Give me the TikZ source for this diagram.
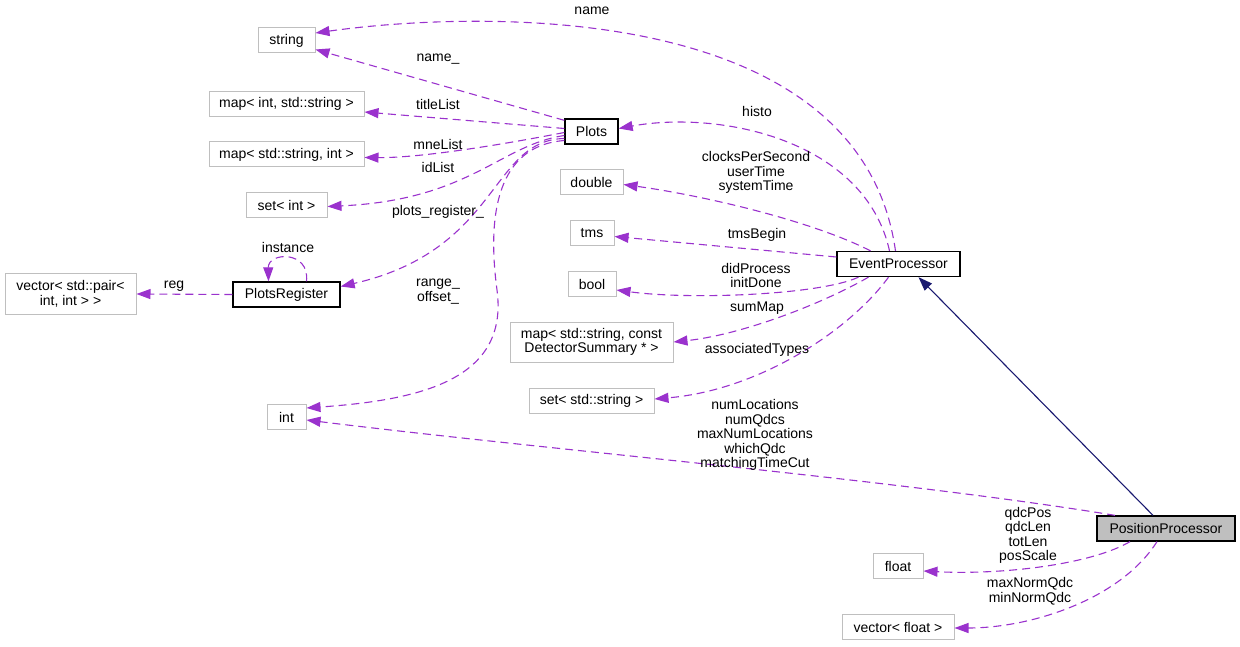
\documentclass[tikz,border=0pt]{standalone}
\usepackage{fontspec}
\setmainfont{Liberation Sans}
\usetikzlibrary{arrows.meta}
\definecolor{memberclr}{HTML}{9A32CD}
\definecolor{typegray}{HTML}{BFBFBF}
\definecolor{baseclr}{HTML}{191970}
\begin{document}
\begin{tikzpicture}[x=1pt,y=-1pt,font=\fontsize{14}{14.5}\selectfont,
  type/.style={draw=typegray, line width=1pt, minimum height=25pt, inner sep=0pt, align=center},
  cls/.style={type, draw=black, line width=1.3pt},
  uses/.style={memberclr, dash pattern=on 8pt off 5pt, line width=1.1pt, -{Triangle[length=14pt,width=10pt]}},
  lbl/.style={inner sep=0pt, align=center}]
\useasboundingbox (0,0) rectangle (1240,647);

% types on the left
\node[type, minimum width=57pt] (string) at (286.5,40.5) {string};
\node[type, minimum width=155pt] (mapIS) at (286.5,104) {map< int, std::string >};
\node[type, minimum width=155pt] (mapSI) at (286.5,154.5) {map< std::string, int >};
\node[type, minimum width=81pt] (setInt) at (286.5,205.5) {set< int >};
\node[cls, minimum width=107pt] (register) at (286.5,294.5) {PlotsRegister};
\node[type, minimum width=131pt, minimum height=40pt] (vecPair) at (70.5,294) {vector< std::pair<\\int, int > >};
\node[type, minimum width=39pt] (int) at (286.5,417) {int};

% middle column
\node[cls, minimum width=53pt] (plots) at (591.5,131.5) {Plots};
\node[type, minimum width=63pt] (double) at (591.5,182.5) {double};
\node[type, minimum width=44pt] (tms) at (592,233.5) {tms};
\node[type, minimum width=48pt] (bool) at (592,284) {bool};
\node[type, minimum width=163pt, minimum height=40pt] (mapDet) at (591.5,342) {map< std::string, const\\DetectorSummary * >};
\node[type, minimum width=125pt] (setStr) at (591.5,401) {set< std::string >};

% right side
\node[cls, minimum width=123pt] (event) at (898.5,264) {EventProcessor};
\node[cls, fill=typegray, minimum width=138pt] (position) at (1166,528.5) {PositionProcessor};
\node[type, minimum width=50pt] (float) at (898,566) {float};
\node[type, minimum width=112pt] (vecFloat) at (898,627) {vector< float >};

% Plots members
\draw[uses] ([yshift=-2pt]plots.north west) -- ([yshift=-9pt]string.east);
\draw[uses] ([yshift=3pt]plots.west) -- ([yshift=-8pt]mapIS.east);
\draw[uses] ([yshift=-1pt]plots.west) .. controls (500,145) and (420,158) .. ([yshift=-3pt]mapSI.east);
\draw[uses] ([yshift=-4pt]plots.west) .. controls (500,145) and (470,200) .. ([yshift=-1pt]setInt.east);
\draw[uses] ([yshift=-7pt]plots.west) .. controls (490,140) and (500,250) .. ([yshift=8pt]register.east);
\draw[uses] ([yshift=-9pt]plots.west) .. controls (505,145) and (485,200) .. (497,290)
  .. controls (509,380) and (420,400) .. ([yshift=9pt]int.east);
\draw[uses] ([xshift=20pt]register.north) .. controls (310,250) and (268,252) .. ([xshift=-18pt]register.north);
\draw[uses] (register.west) -- (vecPair.east);

% EventProcessor members
\draw[uses] ([xshift=-3pt]event.north) .. controls (860,0) and (480,10) .. ([yshift=7.5pt]string.east);
\draw[uses] ([xshift=-9pt]event.north) .. controls (865,140) and (720,110) .. ([yshift=3pt]plots.east);
\draw[uses] ([xshift=-28pt]event.north) .. controls (810,220) and (700,195) .. ([yshift=-2pt]double.east);
\draw[uses] ([yshift=7pt]event.west) -- ([yshift=-3pt]tms.east);
\draw[uses] ([xshift=-40pt]event.south) .. controls (820,295) and (690,300) .. ([yshift=-6pt]bool.east);
\draw[uses] ([xshift=-30pt]event.south) .. controls (820,305) and (740,335) .. (mapDet.east);
\draw[uses] ([xshift=-10pt]event.south) .. controls (850,330) and (760,390) .. ([yshift=2pt]setStr.east);

% PositionProcessor
\draw[baseclr, line width=1.1pt, -{Triangle[length=14pt,width=10pt]}] ([xshift=-13pt]position.north) -- ([xshift=20pt]event.south);
\draw[uses] ([xshift=-51pt]position.north) .. controls (900,480) and (550,450) .. ([yshift=-3pt]int.east);
\draw[uses] ([xshift=-36pt]position.south) .. controls (1090,565) and (1000,575) .. ([yshift=-5pt]float.east);
\draw[uses] ([xshift=-9pt]position.south) .. controls (1120,600) and (1030,628) .. ([yshift=-1pt]vecFloat.east);

% labels
\node[lbl] (lName) at (592,11) {name};
\node[lbl] (lName_) at (438,59) {name\_};
\node[lbl] (lTitle) at (438,104) {titleList};
\node[lbl] (lMne) at (438,144) {mneList};
\node[lbl] (lId) at (438,167) {idList};
\node[lbl] (lReg_) at (438,212) {plots\_register\_};
\node[lbl] (lInst) at (288,247) {instance};
\node[lbl] (lReg) at (174,286) {reg};
\node[lbl] (lRange) at (438,291.5) {range\_\\offset\_};
\node[lbl] (lHisto) at (757,111) {histo};
\node[lbl] (lClock) at (756,172.5) {clocksPerSecond\\userTime\\systemTime};
\node[lbl] (lTms) at (757,235) {tmsBegin};
\node[lbl] (lDid) at (756,275.5) {didProcess\\initDone};
\node[lbl] (lSum) at (757,308) {sumMap};
\node[lbl] (lAssoc) at (757,350) {associatedTypes};
\node[lbl] (lNum) at (755,435) {numLocations\\numQdcs\\maxNumLocations\\whichQdc\\matchingTimeCut};
\node[lbl] (lQdc) at (1028,535.5) {qdcPos\\qdcLen\\totLen\\posScale};
\node[lbl] (lNorm) at (1030,591) {maxNormQdc\\minNormQdc};
\end{tikzpicture}
\end{document}
